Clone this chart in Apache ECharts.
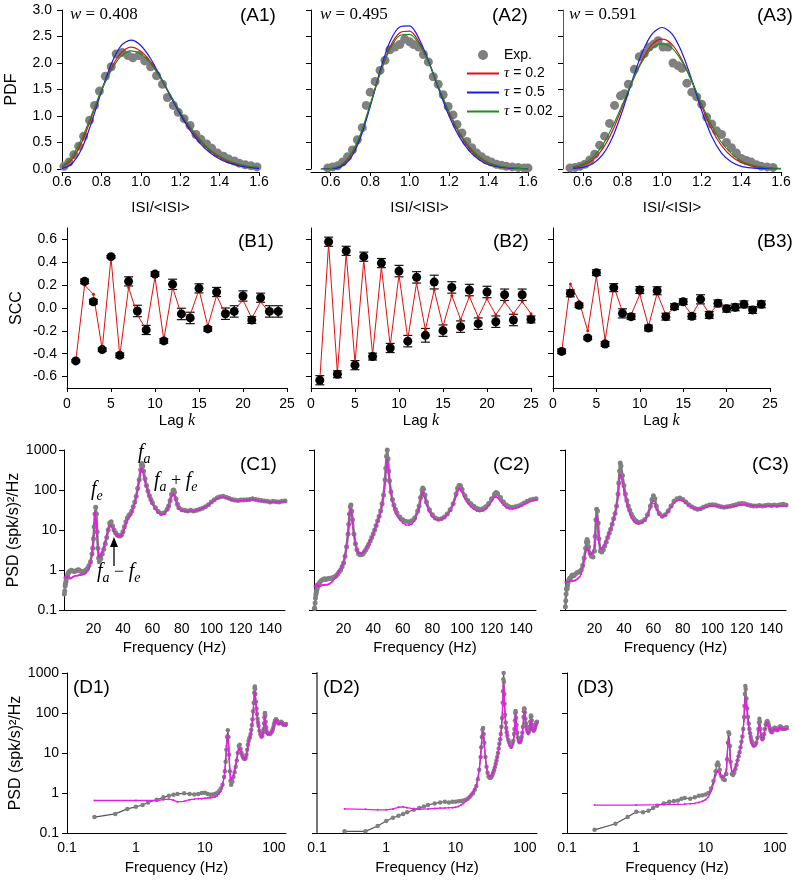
<!DOCTYPE html>
<html><head><meta charset="utf-8">
<script src="https://cdn.jsdelivr.net/npm/echarts@6/dist/echarts.min.js"></script>
<style>html,body{margin:0;padding:0;background:#fff}#c{width:796px;height:881px}</style>
</head><body><div id="c"></div><script>
// ---------- Row A: ISI PDFs ----------
const wValues = ['0.408', '0.495', '0.591'];
const pdfExpA1 = [[0.61,0.05],[0.635,0.13],[0.66,0.27],[0.685,0.43],[0.71,0.62],[0.74,0.92],[0.765,1.2],[0.79,1.47],[0.82,1.75],[0.85,1.93],[0.875,2.17],[0.905,2.2],[0.935,2.14],[0.96,2.1],[0.99,2.14],[1.02,2.04],[1.05,1.93],[1.08,1.76],[1.11,1.6],[1.135,1.35],[1.165,1.2],[1.19,1.07],[1.22,0.95],[1.25,0.82],[1.28,0.65],[1.305,0.56],[1.335,0.47],[1.36,0.39],[1.39,0.3],[1.42,0.24],[1.445,0.19],[1.475,0.15],[1.5,0.11],[1.53,0.08],[1.56,0.06],[1.59,0.04]];
const pdfExpA2 = [[0.585,0.02],[0.61,0.04],[0.635,0.06],[0.66,0.13],[0.685,0.23],[0.71,0.36],[0.735,0.55],[0.76,0.78],[0.78,1.2],[0.8,1.45],[0.825,1.65],[0.85,1.86],[0.875,2.05],[0.9,2.25],[0.925,2.3],[0.95,2.35],[0.975,2.45],[1.0,2.4],[1.02,2.35],[1.045,2.3],[1.07,2.16],[1.095,2.02],[1.12,1.74],[1.145,1.6],[1.17,1.4],[1.195,1.18],[1.22,1.02],[1.24,0.84],[1.265,0.68],[1.29,0.52],[1.315,0.4],[1.34,0.3],[1.365,0.23],[1.39,0.17],[1.415,0.13],[1.44,0.09],[1.465,0.07],[1.49,0.05],[1.52,0.04],[1.55,0.03],[1.58,0.02],[1.6,0.02]];
const pdfExpA3 = [[0.535,0.02],[0.56,0.03],[0.585,0.05],[0.61,0.09],[0.635,0.17],[0.66,0.28],[0.685,0.45],[0.71,0.62],[0.735,0.86],[0.76,1.2],[0.79,1.38],[0.81,1.42],[0.83,1.6],[0.86,1.88],[0.885,2.12],[0.91,2.18],[0.935,2.3],[0.96,2.36],[0.98,2.42],[1.005,2.3],[1.03,2.3],[1.055,2.0],[1.08,1.95],[1.1,1.9],[1.125,1.62],[1.15,1.45],[1.175,1.36],[1.2,1.22],[1.225,0.98],[1.25,0.85],[1.275,0.72],[1.3,0.65],[1.325,0.5],[1.35,0.4],[1.375,0.3],[1.4,0.2],[1.425,0.16],[1.45,0.13],[1.475,0.08],[1.5,0.05],[1.53,0.04],[1.56,0.03]];
const pdfGridA1 = [0.6,0.65,0.7,0.75,0.8,0.85,0.9,0.95,1.0,1.05,1.1,1.15,1.2,1.25,1.3,1.35,1.4,1.45,1.5,1.55,1.6];
const redA1   = [0.03,0.18,0.5,0.98,1.48,1.9,2.19,2.3,2.22,2.02,1.72,1.38,1.05,0.77,0.53,0.35,0.22,0.13,0.08,0.04,0.02];
const blueA1  = [0.01,0.1,0.38,0.88,1.46,1.98,2.33,2.43,2.33,2.08,1.74,1.38,1.03,0.73,0.49,0.31,0.19,0.11,0.06,0.03,0.01];
const greenA1 = [0.05,0.23,0.57,1.02,1.48,1.86,2.13,2.23,2.17,1.99,1.72,1.4,1.08,0.8,0.56,0.37,0.24,0.15,0.09,0.05,0.03];
const pdfGridA23 = [0.55,0.6,0.65,0.7,0.75,0.8,0.85,0.9,0.95,1.0,1.05,1.1,1.15,1.2,1.25,1.3,1.35,1.4,1.45,1.5,1.55,1.6];
const redA2   = [0.0,0.01,0.06,0.25,0.62,1.2,1.8,2.3,2.57,2.6,2.38,1.98,1.5,1.05,0.68,0.4,0.22,0.11,0.05,0.02,0.01,0.0];
const blueA2  = [0.0,0.0,0.04,0.2,0.58,1.18,1.85,2.4,2.68,2.7,2.44,2.0,1.48,1.0,0.62,0.35,0.18,0.08,0.04,0.02,0.01,0.0];
const greenA2 = [0.0,0.01,0.07,0.27,0.65,1.22,1.8,2.26,2.52,2.54,2.35,1.98,1.52,1.08,0.71,0.43,0.24,0.12,0.06,0.03,0.01,0.0];
const redA3   = [0.03,0.07,0.17,0.38,0.72,1.18,1.65,2.06,2.35,2.45,2.35,2.06,1.65,1.18,0.75,0.44,0.24,0.12,0.06,0.03,0.01,0.0];
const blueA3  = [0.01,0.03,0.1,0.27,0.6,1.1,1.68,2.2,2.55,2.67,2.55,2.2,1.68,1.1,0.62,0.3,0.13,0.05,0.02,0.01,0.0,0.0];
const greenA3 = [0.04,0.1,0.22,0.45,0.8,1.22,1.66,2.03,2.28,2.36,2.28,2.03,1.66,1.22,0.82,0.5,0.29,0.15,0.08,0.04,0.02,0.01];
const pdfXTicks = [0.6,0.8,1.0,1.2,1.4,1.6];

// ---------- Row B: serial correlation coefficients ----------
const lags = [1,2,3,4,5,6,7,8,9,10,11,12,13,14,15,16,17,18,19,20,21,22,23,24,25];
const sccExpB1 = [-0.463,0.233,0.055,-0.364,0.449,-0.414,0.233,-0.026,-0.192,0.297,-0.288,0.207,-0.052,-0.087,0.172,-0.183,0.14,-0.05,-0.03,0.105,-0.105,0.09,-0.03,-0.03];
const sccErrB1 = [0.01,0.02,0.02,0.015,0.01,0.02,0.04,0.05,0.04,0.02,0.02,0.045,0.05,0.05,0.04,0.02,0.04,0.05,0.05,0.045,0.03,0.04,0.05,0.05];
const sccModB1 = [-0.46,0.2,0.12,-0.36,0.44,-0.42,0.18,-0.06,-0.19,0.27,-0.28,0.18,-0.06,-0.06,0.16,-0.16,0.11,-0.055,-0.02,0.07,-0.09,0.055,-0.04,-0.03];
const sccExpB2 = [-0.632,0.58,-0.58,0.5,-0.5,0.449,-0.425,0.393,-0.35,0.323,-0.29,0.268,-0.239,0.227,-0.198,0.18,-0.163,0.157,-0.137,0.14,-0.12,0.116,-0.105,0.116,-0.1];
const sccErrB2 = [0.04,0.04,0.03,0.04,0.04,0.04,0.03,0.04,0.04,0.05,0.05,0.05,0.06,0.06,0.05,0.05,0.05,0.05,0.05,0.05,0.05,0.05,0.05,0.05,0.03];
const sccModB2 = [-0.63,0.56,-0.57,0.48,-0.48,0.42,-0.41,0.36,-0.33,0.29,-0.27,0.22,-0.19,0.16,-0.16,0.11,-0.1,0.1,-0.08,0.08,-0.06,0.055,-0.05,0.055,-0.05];
const sccExpB3 = [-0.38,0.128,0.023,-0.262,0.309,-0.315,0.178,-0.047,-0.076,0.157,-0.175,0.151,-0.076,0.012,0.055,-0.073,0.076,-0.061,0.041,-0.006,0.006,0.032,-0.017,0.032];
const sccErrB3 = [0.02,0.03,0.02,0.015,0.025,0.02,0.035,0.04,0.025,0.03,0.025,0.035,0.03,0.025,0.025,0.025,0.04,0.03,0.03,0.03,0.03,0.03,0.03,0.03];
const sccModB3 = [-0.38,0.21,0.06,-0.2,0.28,-0.28,0.19,-0.03,-0.06,0.12,-0.16,0.13,-0.06,0.0,0.04,-0.06,0.07,-0.05,0.03,0.02,-0.02,0.03,-0.02,0.03];
const sccYTicks = [-0.6,-0.4,-0.2,0,0.2,0.4,0.6];

// ---------- Rows C/D: power spectral densities [frequency Hz, PSD] ----------
const psdExp1 = [[0.25,0.25],[0.5,0.3],[0.75,0.4],[1,0.45],[1.25,0.5],[1.5,0.58],[2,0.68],[2.5,0.78],[3,0.85],[3.5,0.9],[4,0.95],[5,0.98],[6,0.95],[7,0.92],[8,0.95],[9,1.0],[10,1.02],[11,0.95],[12,0.9],[13,0.92],[14,0.95],[15,1.0],[16,1.1],[17,1.3],[18,1.6],[19,2.5],[19.5,3.5],[20,6],[20.5,12],[21,25],[21.5,37],[22,25],[22.5,9],[23,3.5],[23.5,2.0],[24,1.6],[25,1.9],[26,2.5],[27,3.3],[28,4.5],[29,6.5],[30,10],[31,15],[32,16],[33,12.5],[34,10],[35,8.5],[36,7.6],[37,7.2],[38,7.1],[39,7.5],[40,9],[41,12],[42,16],[43,20],[44,23],[45,25],[46,30],[47,38],[48,50],[49,70],[50,110],[51,180],[52,320],[52.5,420],[53,460],[53.5,400],[54,300],[55,190],[56,130],[57,95],[58,72],[59,58],[60,48],[62,36],[64,29],[66,26],[68,27],[70,33],[71,40],[72,55],[73,78],[74,98],[74.5,100],[75,88],[76,60],[77,44],[78,36],[80,32],[82,31],[84,30],[86,31],[88,30],[90,31],[92,33],[94,35],[96,38],[98,43],[100,50],[102,57],[104,64],[106,68],[108,70],[110,66],[112,62],[114,58],[116,56],[118,55],[120,56],[122,56],[124,57],[126,58],[128,60],[130,58],[132,56],[134,55],[136,53],[138,52],[140,50],[142,52],[144,51],[146,50],[148,52],[150,53]];
const psdTh1 = [[0.25,0.65],[1,0.65],[2,0.65],[2.5,0.68],[3,0.7],[3.5,0.66],[4,0.6],[5,0.62],[6,0.68],[7,0.7],[8,0.72],[9,0.72],[10,0.74],[11,0.75],[12,0.76],[13,0.78],[14,0.8],[15,0.85],[16,0.95],[17,1.1],[18,1.5],[19,2.5],[19.5,3.8],[20,7],[20.5,15],[21,28],[21.5,26],[22,14],[22.5,7],[23,3.6],[23.5,2.4],[24,2.1],[25,2.3],[26,2.9],[27,3.8],[28,5.2],[29,7.5],[30,10.5],[31,13],[32,12.8],[33,11],[34,9],[35,8],[36,7.3],[37,7],[38,7],[39,7.3],[40,8.5],[41,11],[42,14],[43,18],[44,21],[45,24],[46,28],[47,35],[48,46],[49,65],[50,100],[51,165],[52,280],[52.5,340],[53,330],[53.5,290],[54,230],[55,160],[56,115],[57,85],[58,66],[59,53],[60,44],[62,33],[64,27],[66,24],[68,25],[70,31],[71,37],[72,50],[73,68],[74,80],[74.5,78],[75,70],[76,52],[77,40],[78,34],[80,30],[82,29],[84,29],[86,30],[88,30],[90,31],[92,32],[94,35],[96,38],[98,42],[100,48],[102,55],[104,61],[106,65],[108,67],[110,64],[112,60],[114,56],[116,54],[118,53],[120,54],[122,55],[124,56],[126,57],[128,58],[130,56],[132,54],[134,53],[136,52],[138,51],[140,50],[142,50],[144,50],[146,50],[148,51],[150,51]];
const psdExp2 = [[0.25,0.11],[0.5,0.11],[0.75,0.15],[1,0.2],[1.25,0.24],[1.5,0.27],[1.75,0.3],[2,0.33],[2.5,0.38],[3,0.42],[3.5,0.46],[4,0.5],[5,0.55],[6,0.58],[7,0.6],[8,0.58],[9,0.6],[10,0.6],[11,0.62],[12,0.63],[13,0.65],[14,0.68],[15,0.72],[16,0.8],[17,0.9],[18,1.0],[19,1.2],[20,1.5],[21,2.2],[22,3.8],[23,8],[23.5,14],[24,25],[24.5,38],[25,42],[25.5,30],[26,18],[27,8],[28,4.5],[29,3.2],[30,2.6],[31,2.4],[32,2.4],[33,2.5],[34,2.8],[35,3.2],[36,3.7],[37,4.4],[38,5.3],[39,6.5],[40,8],[41,10],[42,13],[43,17],[44,22],[45,30],[46,45],[47,75],[48,180],[48.5,350],[49,700],[49.5,1000],[50,600],[50.5,300],[51,170],[52,90],[53,58],[54,42],[55,33],[56,27],[58,21],[60,18],[62,16.5],[64,16],[66,17],[68,20],[70,30],[71,40],[72,65],[73,100],[73.5,112],[74,105],[75,75],[76,50],[78,32],[80,24],[82,20],[84,18.5],[86,19],[88,21],[90,25],[92,32],[94,45],[96,80],[97,110],[98,130],[99,128],[100,105],[102,72],[104,55],[106,45],[108,39],[110,35],[112,33],[114,34],[116,38],[118,46],[120,60],[122,80],[123,86],[124,82],[126,65],[128,50],[130,42],[132,38],[134,37],[136,38],[138,40],[140,43],[142,47],[144,52],[146,56],[148,59],[150,60]];
const psdTh2 = [[0.25,0.4],[0.5,0.39],[0.75,0.38],[1,0.38],[1.25,0.4],[1.5,0.44],[1.75,0.45],[2,0.43],[2.5,0.4],[3,0.39],[4,0.4],[5,0.41],[6,0.42],[7,0.42],[8,0.43],[9,0.43],[10,0.44],[11,0.46],[12,0.5],[13,0.55],[14,0.62],[15,0.7],[16,0.8],[17,0.95],[18,1.1],[19,1.3],[20,1.6],[21,2.4],[22,4],[23,8],[23.5,14],[24,24],[24.5,33],[25,32],[25.5,24],[26,15],[27,7.5],[28,4.5],[29,3.2],[30,2.7],[31,2.6],[32,2.6],[33,2.7],[34,3],[35,3.4],[36,3.9],[37,4.6],[38,5.5],[39,6.6],[40,8],[41,10],[42,12.5],[43,16],[44,21],[45,28],[46,42],[47,70],[48,150],[48.5,280],[49,480],[49.5,560],[50,420],[50.5,250],[51,150],[52,80],[53,50],[54,36],[55,28],[56,23],[58,18],[60,15],[62,13.5],[64,13.3],[66,14],[68,17],[70,26],[71,34],[72,55],[73,82],[73.5,90],[74,85],[75,62],[76,42],[78,28],[80,21],[82,18.5],[84,18],[86,18.5],[88,20],[90,24],[92,30],[94,42],[96,70],[97,92],[98,108],[99,105],[100,88],[102,60],[104,46],[106,38],[108,33],[110,30],[112,29],[114,30],[116,33],[118,40],[120,52],[122,66],[123,68],[124,65],[126,52],[128,42],[130,36],[132,34],[134,34],[136,35],[138,37],[140,40],[142,44],[144,48],[146,52],[148,55],[150,57]];
const psdExp3 = [[0.25,0.12],[0.5,0.17],[0.75,0.25],[1,0.34],[1.25,0.33],[1.5,0.36],[1.75,0.42],[2,0.48],[2.5,0.55],[3,0.6],[3.5,0.63],[4,0.65],[4.5,0.72],[5,0.75],[6,0.72],[7,0.78],[8,0.85],[9,0.88],[10,0.92],[11,1.0],[12,1.3],[13,2.0],[14,3.5],[14.5,5],[15,5.8],[15.5,5],[16,3.8],[17,2.6],[18,2.2],[19,2.1],[20,3],[20.5,7],[21,18],[21.5,33],[22,30],[22.5,15],[23,6],[24,3],[25,2.8],[26,3.2],[27,4],[28,5],[29,6.5],[30,8.3],[31,10.5],[32,14],[33,19],[34,26],[35,40],[36,80],[36.5,150],[37,300],[37.5,470],[38,400],[39,230],[40,130],[41,80],[42,55],[43,40],[44,31],[45,25],[46,21],[47,18.5],[48,17],[49,16],[50,15.5],[52,16],[54,18],[56,24],[58,40],[59,58],[60,72],[61,60],[62,40],[64,26],[66,22],[68,24],[70,30],[72,40],[74,52],[76,60],[78,63],[80,58],[82,50],[84,43],[86,38],[88,35],[90,33],[92,34],[94,37],[96,40],[98,42],[100,43],[102,42],[104,40],[106,38],[108,37],[110,38],[112,39],[114,41],[116,43],[118,45],[120,46],[122,45],[124,43],[126,41],[128,40],[130,40],[132,41],[134,40],[136,41],[138,42],[140,41],[142,42],[144,41],[146,43],[148,44],[150,42]];
const psdTh3 = [[0.25,0.5],[1,0.5],[2,0.51],[3,0.52],[4,0.52],[5,0.53],[6,0.54],[7,0.55],[8,0.58],[9,0.62],[10,0.68],[11,0.8],[12,1.1],[13,1.7],[14,2.8],[14.5,3.4],[15,3.6],[15.5,3.3],[16,2.9],[17,2.5],[18,2.5],[19,2.8],[20,4],[20.5,8],[21,18],[21.5,22],[22,17],[22.5,9],[23,5],[24,3.5],[25,3.4],[26,3.8],[27,4.5],[28,5.5],[29,7],[30,8.8],[31,11],[32,14],[33,19],[34,26],[35,38],[36,70],[36.5,120],[37,200],[37.5,240],[38,220],[39,150],[40,95],[41,62],[42,44],[43,33],[44,26],[45,21],[46,18],[47,16],[48,15],[49,14.5],[50,14.5],[52,15],[54,17],[56,22],[58,35],[59,47],[60,52],[61,45],[62,32],[64,24],[66,21],[68,23],[70,28],[72,37],[74,47],[76,54],[78,57],[80,54],[82,47],[84,41],[86,37],[88,34],[90,33],[92,34],[94,36],[96,38],[98,40],[100,41],[102,40],[104,39],[106,38],[108,37],[110,37],[112,38],[114,39],[116,40],[118,42],[120,43],[122,43],[124,42],[126,41],[128,40],[130,40],[132,40],[134,40],[136,40],[138,40],[140,40],[142,40],[144,40],[146,40],[148,40],[150,40]];
const psdLinTicks = [20,40,60,80,100,120,140];

// ---------- build ----------
const FONT = "'Liberation Sans', Arial, sans-serif";
const SERIF = "'Liberation Serif', 'Times New Roman', serif";
const C_RED = '#e01010', C_BLUE = '#1a1aee', C_GREEN = '#1f8a1f', C_GRAY = '#808080', C_MAG = '#e020e0';
const logFmt = v => String(Number(Number(v).toPrecision(3)));

const grids = [], xAxes = [], yAxes = [], series = [];
const gridBoxes = [
  [62,10,197,159],[311,10,217,159],[563,10,218,159],
  [67,228,220,160],[311,228,220,160],[553,228,217,160],
  [64,450,221,160],[314,450,222,160],[565,450,221,160],
  [67,673,219,160],[317,673,220,160],[567,673,220,160]
];
gridBoxes.forEach(b => grids.push({left:b[0], top:b[1], width:b[2], height:b[3]}));

function axisBase(gi, extra) {
  return Object.assign({
    gridIndex: gi,
    axisLine: {show:true, onZero:false, lineStyle:{color:'#000', width:1}},
    splitLine: {show:false},
    axisTick: {show:true, length:5, lineStyle:{color:'#000'}},
    axisLabel: {fontFamily:FONT, fontSize:14, color:'#000'},
    nameTextStyle: {fontFamily:FONT, fontSize:15, color:'#000'}
  }, extra);
}
const lagName = {name:'{n|Lag }{i|k}', nameLocation:'middle', nameGap:25,
  nameTextStyle:{fontFamily:FONT, fontSize:15, color:'#000', rich:{n:{fontFamily:FONT,fontSize:15,color:'#000'}, i:{fontFamily:SERIF,fontStyle:'italic',fontSize:16,color:'#000'}}}};
const psdName = 'PSD (spk/s)²/Hz';

// A panels
const pdfSets = [
  {exp:pdfExpA1, grid:pdfGridA1, r:redA1, b:blueA1, g:greenA1, min:0.6},
  {exp:pdfExpA2, grid:pdfGridA23, r:redA2, b:blueA2, g:greenA2, min:0.5},
  {exp:pdfExpA3, grid:pdfGridA23, r:redA3, b:blueA3, g:greenA3, min:0.5}
];
pdfSets.forEach((s, i) => {
  const gi = i;
  xAxes.push(axisBase(gi, {type:'value', min:s.min, max:1.6, offset:3,
    axisTick:{show:true, length:4, customValues:pdfXTicks, lineStyle:{color:'#000'}},
    axisLabel:{fontFamily:FONT, fontSize:14, color:'#000', margin:3, customValues:pdfXTicks, formatter:v=>v.toFixed(1)},
    name:'ISI/<ISI>', nameLocation:'middle', nameGap:28}));
  yAxes.push(axisBase(gi, {type:'value', min:0, max:3, interval:0.5,
    axisLine:{show:true, onZero:false, lineStyle:{color: i===2 ? '#555' : '#000', width:1}},
    axisLabel:{show:i===0, fontFamily:FONT, fontSize:14, color:'#000', margin:10, formatter:v=>v.toFixed(1)},
    name: i===0 ? 'PDF' : '', nameLocation:'middle', nameGap:42, nameTextStyle:{fontFamily:FONT,fontSize:16,color:'#000'}}));
  series.push({type:'scatter', name:'Exp.', xAxisIndex:gi, yAxisIndex:gi, data:s.exp, symbolSize:9,
    itemStyle:{color:C_GRAY, opacity:1}, z:2, silent:true});
  [['τ = 0.2', s.r, C_RED], ['τ = 0.5', s.b, C_BLUE], ['τ = 0.02', s.g, C_GREEN]].forEach(([nm, vals, col]) => {
    series.push({type:'line', name:nm, xAxisIndex:gi, yAxisIndex:gi, smooth:0.3, symbol:'none', showSymbol:false,
      data: s.grid.map((x, k) => [x, vals[k]]), lineStyle:{color:col, width:1.2}, itemStyle:{color:col}, z:3, silent:true});
  });
});

// B panels
function errRender(params, api) {
  const x = api.value(0), lo = api.value(1), hi = api.value(2);
  const a = api.coord([x, lo]), b = api.coord([x, hi]);
  const hw = 4.5, st = {stroke:'#111', lineWidth:1.2};
  return {type:'group', children:[
    {type:'line', shape:{x1:a[0], y1:a[1], x2:b[0], y2:b[1]}, style:st},
    {type:'line', shape:{x1:a[0]-hw, y1:a[1], x2:a[0]+hw, y2:a[1]}, style:st},
    {type:'line', shape:{x1:b[0]-hw, y1:b[1], x2:b[0]+hw, y2:b[1]}, style:st}
  ]};
}
const sccSets = [
  {exp:sccExpB1, err:sccErrB1, mod:sccModB1},
  {exp:sccExpB2, err:sccErrB2, mod:sccModB2},
  {exp:sccExpB3, err:sccErrB3, mod:sccModB3}
];
sccSets.forEach((s, i) => {
  const gi = 3 + i;
  xAxes.push(axisBase(gi, Object.assign({type:'value', min:0, max:25, interval:5,
    axisTick:{show:true, length:4, lineStyle:{color:'#000'}},
    axisLabel:{fontFamily:FONT, fontSize:14, color:'#000', margin:9}}, lagName)));
  yAxes.push(axisBase(gi, {type:'value', min:-0.7, max:0.7,
    axisTick:{show:true, length:5, customValues:sccYTicks, lineStyle:{color:'#000'}},
    axisLabel:{show:i===0, fontFamily:FONT, fontSize:14, color:'#000', margin:10, customValues:sccYTicks, formatter:v=>v.toFixed(1)},
    name: i===0 ? 'SCC' : '', nameLocation:'middle', nameGap:42, nameTextStyle:{fontFamily:FONT,fontSize:16,color:'#000'}}));
  series.push({type:'custom', xAxisIndex:gi, yAxisIndex:gi, renderItem:errRender, silent:true, z:3,
    encode:{x:0, y:[1,2]},
    data: s.exp.map((v, k) => [lags[k], v - s.err[k], v + s.err[k]])});
  series.push({type:'line', name:'model'+i, xAxisIndex:gi, yAxisIndex:gi, symbol:'circle', symbolSize:3,
    data: s.mod.map((v, k) => [lags[k], v]), lineStyle:{color:C_RED, width:1}, itemStyle:{color:C_RED}, z:4, silent:true});
  series.push({type:'scatter', name:'scc'+i, xAxisIndex:gi, yAxisIndex:gi, symbolSize:9,
    data: s.exp.map((v, k) => [lags[k], v]), itemStyle:{color:'#000', opacity:1}, z:5, silent:true});
});

// C and D panels
const psdSets = [
  {exp:psdExp1, th:psdTh1}, {exp:psdExp2, th:psdTh2}, {exp:psdExp3, th:psdTh3}
];
psdSets.forEach((s, i) => {
  const gi = 6 + i;
  xAxes.push(axisBase(gi, {type:'value', min:0, max:150,
    axisTick:{show:false},
    axisLabel:{fontFamily:FONT, fontSize:14, color:'#000', margin:12, customValues:psdLinTicks},
    name:'Frequency (Hz)', nameLocation:'middle', nameGap:30}));
  yAxes.push(axisBase(gi, {type:'log', logBase:10, min:0.1, max:1000,
    axisLabel:{show:i===0, fontFamily:FONT, fontSize:14, color:'#000', margin:7, formatter:logFmt},
    name: i===0 ? psdName : '', nameLocation:'middle', nameGap:38, nameTextStyle:{fontFamily:FONT,fontSize:16,color:'#000'}}));
  series.push({type:'line', name:'psdExpC'+i, xAxisIndex:gi, yAxisIndex:gi, data:s.exp, symbol:'circle', symbolSize:5,
    lineStyle:{color:'#7a7a7a', width:2.5}, itemStyle:{color:C_GRAY}, z:2, silent:true});
  series.push({type:'line', name:'psdThC'+i, xAxisIndex:gi, yAxisIndex:gi, data:s.th, symbol:'circle', symbolSize:2,
    lineStyle:{color:C_MAG, width:1.3}, itemStyle:{color:C_MAG}, z:3, silent:true});
});
psdSets.forEach((s, i) => {
  const gi = 9 + i;
  xAxes.push(axisBase(gi, {type:'log', logBase:10, min:0.1, max:150,
    axisTick:{show:false},
    axisLabel:{fontFamily:FONT, fontSize:14, color:'#000', margin:8, showMaxLabel:false, formatter:logFmt},
    name:'Frequency (Hz)', nameLocation:'middle', nameGap:27}));
  yAxes.push(axisBase(gi, {type:'log', logBase:10, min:0.1, max:1000,
    axisLine:{show:true, onZero:false, lineStyle:{color: i===1 ? '#777' : '#000', width: i===1 ? 2 : 1}},
    axisLabel:{show:i===0, fontFamily:FONT, fontSize:14, color:'#000', margin:8, formatter:logFmt},
    name: i===0 ? psdName : '', nameLocation:'middle', nameGap:40, nameTextStyle:{fontFamily:FONT,fontSize:16,color:'#000'}}));
  series.push({type:'line', name:'psdExpD'+i, xAxisIndex:gi, yAxisIndex:gi, data:s.exp, symbol:'circle', symbolSize:4.5,
    lineStyle:{color:'#555', width:1.2}, itemStyle:{color:C_GRAY}, z:2, silent:true});
  series.push({type:'line', name:'psdThD'+i, xAxisIndex:gi, yAxisIndex:gi, data:s.th, symbol:'circle', symbolSize:2,
    lineStyle:{color:C_MAG, width:1.3}, itemStyle:{color:C_MAG}, z:3, silent:true});
});

// annotations
const panelLabels = [
  ['(A1)',240,16],['(A2)',492,16],['(A3)',757,16],
  ['(B1)',238,242],['(B2)',493,242],['(B3)',757,242],
  ['(C1)',240,465],['(C2)',493,465],['(C3)',752,465],
  ['(D1)',73,688],['(D2)',323,688],['(D3)',577,688]
];
const graphic = [];
panelLabels.forEach(([t,x,y]) => graphic.push({type:'text', x, y, silent:true,
  style:{text:t, fontFamily:FONT, fontSize:19, fill:'#000', verticalAlign:'middle'}}));
const serifRich = {
  i:{fontFamily:SERIF, fontStyle:'italic', fontSize:17, fill:'#000'},
  f:{fontFamily:SERIF, fontStyle:'italic', fontSize:20, fill:'#000'},
  s:{fontFamily:SERIF, fontStyle:'italic', fontSize:14, fill:'#000', padding:[12,0,0,0]},
  o:{fontFamily:SERIF, fontSize:18, fill:'#000'}
};
[[70,0],[320,1],[569,2]].forEach(([x,k]) => graphic.push({type:'text', x, y:15, silent:true,
  style:{text:'{i|w} = ' + wValues[k], fontFamily:SERIF, fontSize:17, fill:'#000', verticalAlign:'middle', rich:serifRich}}));
[['{f|f}{s|e}',91,490],['{f|f}{s|a}',138,453],['{f|f}{s|a}{o| + }{f|f}{s|e}',154,481],['{f|f}{s|a}{o| − }{f|f}{s|e}',97,572]].forEach(([t,x,y]) =>
  graphic.push({type:'text', x, y, silent:true, style:{text:t, fontFamily:SERIF, fontSize:18, fill:'#000', verticalAlign:'middle', rich:serifRich}}));
graphic.push({type:'line', silent:true, shape:{x1:114, y1:566, x2:114, y2:544}, style:{stroke:'#000', lineWidth:1.3}});
graphic.push({type:'polygon', silent:true, shape:{points:[[110,547],[114,537],[118,547]]}, style:{fill:'#000'}});

const option = {
  animation: false,
  backgroundColor: '#fff',
  grid: grids, xAxis: xAxes, yAxis: yAxes, series: series, graphic: graphic,
  legend: {
    left: 461, top: 43, orient: 'vertical', itemWidth: 32, itemHeight: 10, itemGap: 4, selectedMode: false,
    data: [
      {name:'Exp.'},
      {name:'τ = 0.2', itemStyle:{opacity:0}},
      {name:'τ = 0.5', itemStyle:{opacity:0}},
      {name:'τ = 0.02', itemStyle:{opacity:0}}
    ],
    formatter: n => n.charAt(0) === 'τ' ? '{i|τ}' + n.slice(1) : n,
    textStyle: {fontFamily:FONT, fontSize:14, color:'#000',
      rich:{i:{fontFamily:SERIF, fontStyle:'italic', fontSize:15, color:'#000'}}}
  }
};
const chart = echarts.init(document.getElementById('c'), null, {renderer:'canvas', width:796, height:881});
chart.setOption(option);
</script></body></html>
